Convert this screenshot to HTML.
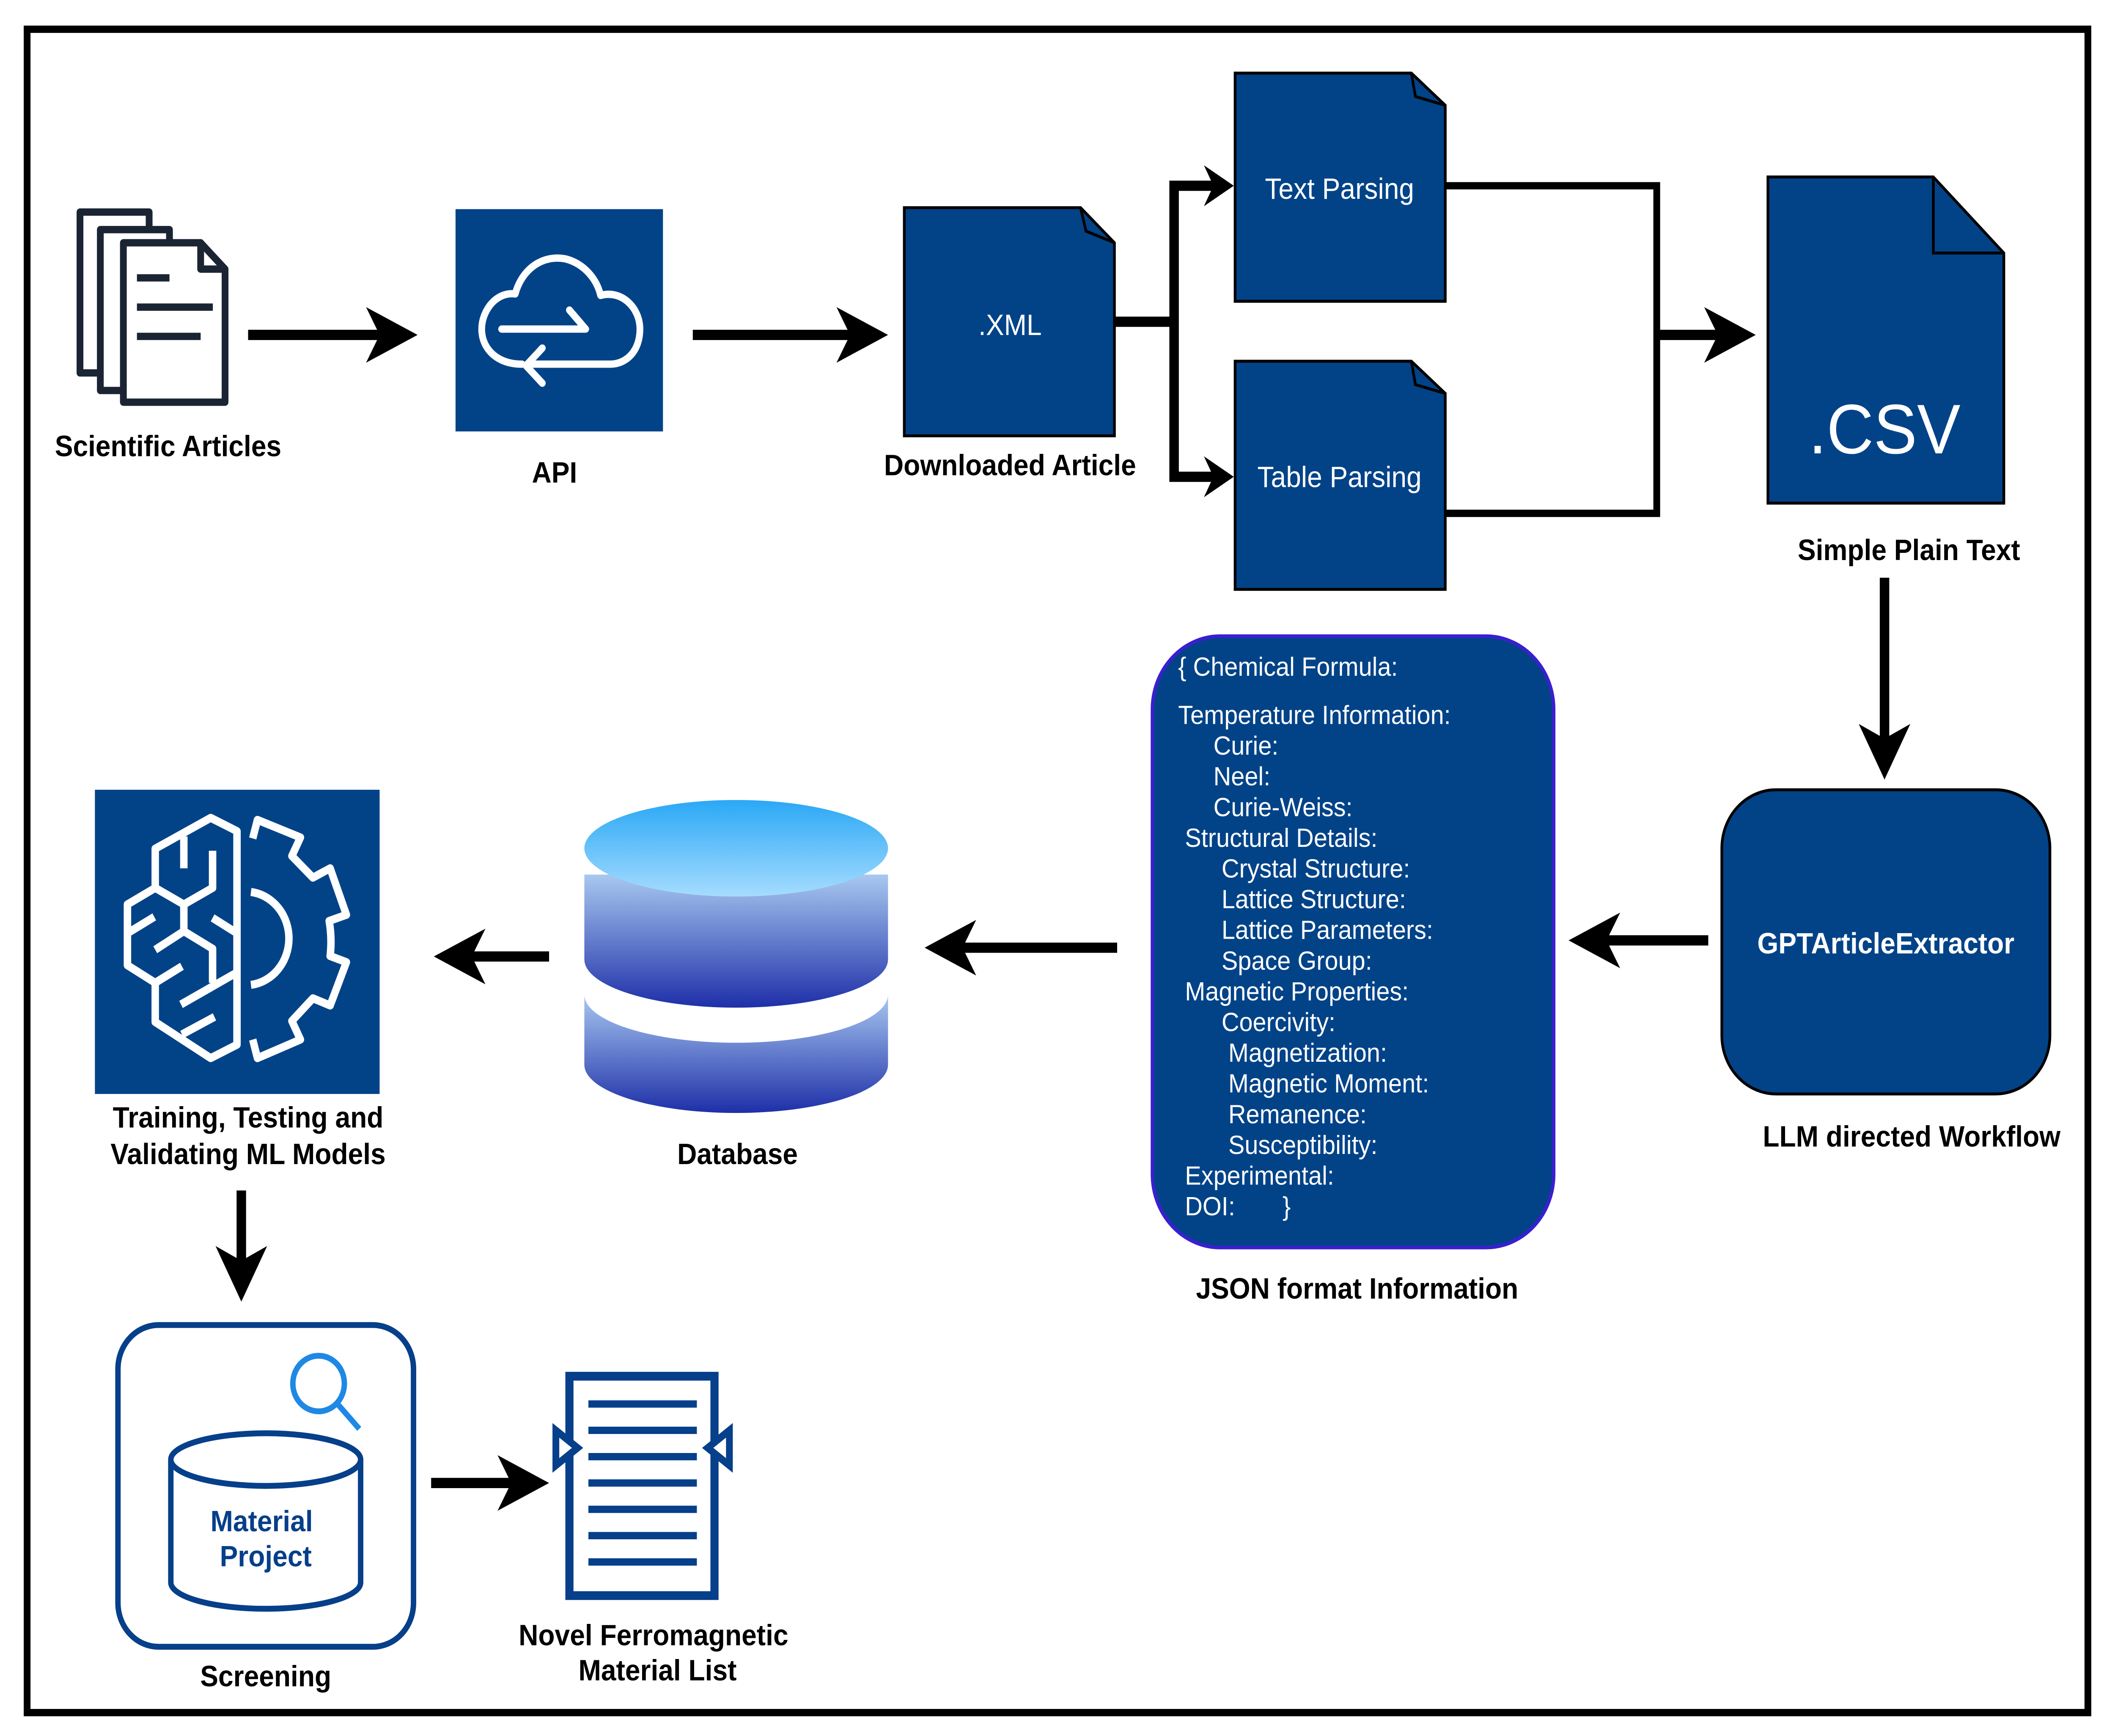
<!DOCTYPE html>
<html><head><meta charset="utf-8"><style>html,body{margin:0;padding:0;background:#fff;width:100%;height:100%;overflow:hidden}svg{position:fixed;left:0;top:0;width:100vw;height:100vh;display:block}</style></head>
<body>
<svg viewBox="0 0 1560 1187" preserveAspectRatio="none" xmlns="http://www.w3.org/2000/svg" font-family="Liberation Sans, Arial, sans-serif">
<defs>
<linearGradient id="dbg" x1="0" y1="0" x2="0" y2="1">
<stop offset="0" stop-color="#a8c8f0"/><stop offset="1" stop-color="#1e2fa8"/></linearGradient>
<linearGradient id="dbt" x1="0" y1="0" x2="0" y2="1">
<stop offset="0" stop-color="#2aa8f5"/><stop offset="1" stop-color="#a6dcff"/></linearGradient>
</defs>
<rect x="20" y="20" width="1520" height="1151" fill="#fff" stroke="#000" stroke-width="5"/>

<!-- Scientific Articles icon -->
<g fill="#fff" stroke="#1b2433" stroke-width="5" stroke-linejoin="round">
<path d="M59,145 H110 V255 H59 Z"/>
<path d="M74,157 H125 V267 H74 Z"/>
<path d="M91,166 H148 L166,184 V275 H91 Z"/>
<path d="M148,166 V184 H166" fill="none"/>
</g>
<g stroke="#1b2433" stroke-width="5"><line x1="101" y1="190" x2="125" y2="190"/><line x1="101" y1="210" x2="157" y2="210"/><line x1="101" y1="230" x2="148" y2="230"/></g>
<text x="124" y="312" text-anchor="middle" font-size="20" font-weight="bold">Scientific Articles</text>

<!-- arrows -->
<g stroke="#000" stroke-width="7" fill="none">
<line x1="183" y1="229" x2="285" y2="229"/>
<line x1="511" y1="229" x2="632" y2="229"/>
<polyline points="822,220 866,220"/>
<polyline points="895,127 866,127 866,326 895,326"/>
<polyline points="1066,127 1222,127 1222,351 1066,351" stroke-width="5"/>
<line x1="1222" y1="229" x2="1272" y2="229"/>
<line x1="1390" y1="395" x2="1390" y2="510"/>
<line x1="1260" y1="643" x2="1180" y2="643"/>
<line x1="824" y1="648" x2="705" y2="648"/>
<line x1="405" y1="654" x2="343" y2="654"/>
<line x1="178" y1="814" x2="178" y2="868"/>
<line x1="318" y1="1014" x2="383" y2="1014"/>
</g>
<g fill="#000">
<path d="M308,229 L270,210 L280,229 L270,248 Z"/>
<path d="M655,229 L617,210 L627,229 L617,248 Z"/>
<path d="M910,127 L888,113 L895,127 L888,141 Z"/>
<path d="M910,326 L888,312 L895,326 L888,340 Z"/>
<path d="M1295,229 L1257,210 L1267,229 L1257,248 Z"/>
<path d="M1390,533 L1371,495 L1390,505 L1409,495 Z"/>
<path d="M1157,643 L1195,624 L1185,643 L1195,662 Z"/>
<path d="M682,648 L720,629 L710,648 L720,667 Z"/>
<path d="M320,654 L358,635 L348,654 L358,673 Z"/>
<path d="M178,890 L159,852 L178,862 L197,852 Z"/>
<path d="M405,1014 L367,995 L377,1014 L367,1033 Z"/>
</g>

<!-- API -->
<rect x="336" y="143" width="153" height="152" fill="#024388"/>
<g fill="none" stroke="#fff" stroke-width="5" stroke-linecap="round" stroke-linejoin="round">
<path d="M385,249 C360,249 350,230 358,214 C363,204 372,200 380,201 C385,184 400,174 417,177 C430,180 440,190 443,202 C458,198 472,210 472,225 C472,240 462,249 450,249 H405"/>
<path d="M370,225 L432,225 M420,212 L432,225 M405,249 L392,249 M400,238 L388,250 L400,262"/>
</g>
<text x="409" y="330" text-anchor="middle" font-size="20" font-weight="bold">API</text>

<!-- docs -->
<g fill="#024388" stroke="#000" stroke-width="2">
<path d="M667,142 H797 L822,166 V298 H667 Z"/>
<path d="M911,50 H1041 L1066,72 V206 H911 Z"/>
<path d="M911,247 H1041 L1066,269 V403 H911 Z"/>
<path d="M1304,121 H1426 L1478,173 V344 H1304 Z"/>
</g>
<g fill="none" stroke="#000" stroke-width="2">
<path d="M797,142 L801,158 L822,166"/>
<path d="M1041,50 L1044,66 L1066,72"/>
<path d="M1041,247 L1044,263 L1066,269"/>
<path d="M1426,121 V173 H1478"/>
</g>
<g fill="#fff" text-anchor="middle">
<text x="745" y="229" font-size="20">.XML</text>
<text x="988" y="136" font-size="20">Text Parsing</text>
<text x="988" y="333" font-size="20">Table Parsing</text>
<text x="1390" y="310" font-size="48">.CSV</text>
</g>
<g text-anchor="middle" font-size="20" font-weight="bold">
<text x="745" y="325">Downloaded Article</text>
<text x="1408" y="383">Simple Plain Text</text>
<text x="1410" y="784">LLM directed Workflow</text>
<text x="1001" y="888">JSON format Information</text>
<text x="544" y="796">Database</text>
<text x="183" y="771">Training, Testing and</text>
<text x="183" y="796">Validating ML Models</text>
<text x="196" y="1153">Screening</text>
<text x="482" y="1125">Novel Ferromagnetic</text>
<text x="485" y="1149">Material List</text>
</g>

<!-- GPT -->
<rect x="1270" y="540" width="242" height="208" rx="40" fill="#024388" stroke="#000" stroke-width="2"/>
<text x="1391" y="652" text-anchor="middle" fill="#fff" font-size="20" font-weight="bold">GPTArticleExtractor</text>

<!-- JSON -->
<rect x="850" y="435" width="296" height="418" rx="50" fill="#024388" stroke="#3a1fd0" stroke-width="2.5"/>
<g fill="#fff" font-size="18">
<text x="869" y="462">{ Chemical Formula:</text>
<text x="869" y="495">Temperature Information:</text>
<text x="895" y="516">Curie:</text>
<text x="895" y="537">Neel:</text>
<text x="895" y="558">Curie-Weiss:</text>
<text x="874" y="579">Structural Details:</text>
<text x="901" y="600">Crystal Structure:</text>
<text x="901" y="621">Lattice Structure:</text>
<text x="901" y="642">Lattice Parameters:</text>
<text x="901" y="663">Space Group:</text>
<text x="874" y="684">Magnetic Properties:</text>
<text x="901" y="705">Coercivity:</text>
<text x="906" y="726">Magnetization:</text>
<text x="906" y="747">Magnetic Moment:</text>
<text x="906" y="768">Remanence:</text>
<text x="906" y="789">Susceptibility:</text>
<text x="874" y="810">Experimental:</text>
<text x="874" y="831">DOI:&#160;&#160;&#160;&#160;&#160;&#160;&#160;}</text>
</g>

<!-- Database -->
<path d="M431,680 V728 A112,33 0 0 0 655,728 V680 A112,33 0 0 1 431,680 Z" fill="url(#dbg)"/>
<path d="M431,598 V656 A112,33 0 0 0 655,656 V598 Z" fill="url(#dbg)"/>
<ellipse cx="543" cy="580" rx="112" ry="33" fill="url(#dbt)"/>

<!-- ML -->
<rect x="70" y="540" width="210" height="208" fill="#024388"/>
<g fill="none" stroke="#fff" stroke-width="5.5" stroke-linejoin="round">
<path d="M155.4,559.2 L174.8,568.3 V714.3 L155.4,723.5 L114.5,698.8 V672 L94,660 V618.4 L114.5,607.1 V580.3 Z"/>
<path d="M135.6,571.9 V593.7"/>
<path d="M156.8,581.7 V607.1 L135.6,618.4 L114.5,607.1"/>
<path d="M135.6,618.4 V636.7 L114.5,649.4"/>
<path d="M94,638.1 L113.8,626.9"/>
<path d="M135.6,636.7 L156.8,648.7 V672"/>
<path d="M156.8,627.6 L174.8,638.1"/>
<path d="M174.8,664.9 L133.5,686.8"/>
<path d="M114.5,672 L134.2,660.7"/>
<path d="M134.2,707.3 L158.2,695.3"/>
<path d="M186.4,573.3 L189.9,560.6 L221.6,572.6 L215.3,585.3 L230.8,600.1 L243.5,593.7 L255.5,625.5 L242.8,629.7 Q245,641.7 243.5,653.7 L255.5,657.9 L243.5,687.5 L230.8,682.6 L215.3,698.1 L221.6,710.8 L189.9,723.5 L186.4,710.8"/>
<path d="M185.1,609.9 A32,32 0 0 1 185.1,673.4"/>
</g>

<!-- Screening -->
<rect x="87" y="906" width="218" height="220" rx="30" fill="#fff" stroke="#063f8a" stroke-width="4"/>
<g stroke="#063f8a" stroke-width="4" fill="#fff">
<path d="M126,998 V1082 A70,18 0 0 0 266,1082 V998"/>
<ellipse cx="196" cy="998" rx="70" ry="18"/>
</g>
<g stroke="#1e88e5" stroke-width="4" fill="none"><circle cx="235" cy="946" r="19"/><line x1="249" y1="960" x2="265" y2="977"/></g>
<g fill="#063f8a" font-size="20" font-weight="bold" text-anchor="middle">
<text x="193" y="1047">Material</text><text x="196" y="1071">Project</text></g>

<!-- List icon -->
<g stroke="#063f8a" fill="none">
<rect x="420" y="941" width="107" height="150" stroke-width="6"/>
<g stroke-width="5"><line x1="434" y1="960" x2="514" y2="960"/><line x1="434" y1="978" x2="514" y2="978"/><line x1="434" y1="996" x2="514" y2="996"/><line x1="434" y1="1014" x2="514" y2="1014"/><line x1="434" y1="1032" x2="514" y2="1032"/><line x1="434" y1="1050" x2="514" y2="1050"/><line x1="434" y1="1068" x2="514" y2="1068"/></g>
<path d="M410,978 L426,990 L410,1002 Z M538,978 L522,990 L538,1002 Z" fill="#fff" stroke-width="5"/>
</g>
</svg>
</body></html>
